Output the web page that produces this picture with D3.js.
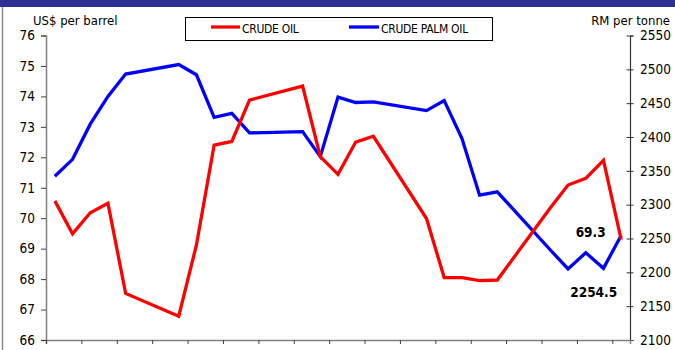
<!DOCTYPE html>
<html>
<head>
<meta charset="utf-8">
<script src="https://cdn.jsdelivr.net/npm/d3@7"></script>
<style>
  html, body { margin: 0; padding: 0; background: #fff; }
  svg { display: block; }
  text { font-family: "DejaVu Sans Condensed", "DejaVu Sans", sans-serif; fill: #000; }
</style>
</head>
<body>
<svg id="chart" width="675" height="350"></svg>
<script>
// Daily slots on the date axis (weekends left empty, lines join across them)
const daySlots = [0, 1, 2, 3, 4, 7, 8, 9, 10, 11, 14, 15, 16, 17, 18,
                  21, 22, 23, 24, 25, 28, 29, 30, 31, 32];
const totalSlots = 33;

// Crude oil, US$ per barrel (left axis)
const crudeOil = [70.57, 69.49, 70.18, 70.49, 67.53, 66.78, 69.12, 72.40, 72.52, 73.88,
                  74.34, 72.02, 71.44, 72.50, 72.69, 69.99, 68.05, 68.05, 67.95, 67.97,
                  70.34, 71.09, 71.31, 71.90, 69.3];

// Crude palm oil, RM per tonne (right axis)
const palmOil = [2342, 2367, 2419, 2460, 2493, 2507, 2492, 2429, 2435, 2406,
                 2408, 2371, 2459, 2451, 2452, 2439, 2454, 2398, 2314, 2319,
                 2233, 2205, 2229, 2206, 2254.5];

const leftTicks = [66, 67, 68, 69, 70, 71, 72, 73, 74, 75, 76];
const rightTicks = [2100, 2150, 2200, 2250, 2300, 2350, 2400, 2450, 2500, 2550];
const seriesNames = ["CRUDE OIL", "CRUDE PALM OIL"];
const seriesColors = ["#ff0000", "#0000ff"];

const svg = d3.select("#chart");

// Header band and frame edge
svg.append("rect").attr("x", 0).attr("y", 0).attr("width", 675).attr("height", 7)
  .attr("fill", "#2e3192");
svg.append("line").attr("x1", 2.5).attr("x2", 2.5).attr("y1", 7).attr("y2", 350)
  .attr("stroke", "#8c8c8c").attr("stroke-width", 1.5);

const plot = { left: 46, right: 630, top: 35.5, bottom: 340 };

const x = d3.scaleLinear().domain([0, totalSlots]).range([plot.left, plot.right]);
const yL = d3.scaleLinear().domain([66, 76]).range([plot.bottom, plot.top]);
const yR = d3.scaleLinear().domain([2100, 2550]).range([plot.bottom, plot.top]);

// Left axis
const gL = svg.append("g").attr("transform", `translate(${plot.left},0)`)
  .call(d3.axisLeft(yL).tickValues(leftTicks).tickSize(5).tickPadding(6).tickFormat(d3.format("d")));
gL.select(".domain").attr("stroke", "#808080").attr("stroke-width", 1.5);
gL.selectAll(".tick line").attr("stroke", "#404040");
gL.selectAll(".tick text").attr("font-size", 13.5).attr("fill", "#000");

// Right axis with crossing tick marks
const gR = svg.append("g").attr("transform", `translate(${plot.right},0)`)
  .call(d3.axisRight(yR).tickValues(rightTicks).tickSize(3.5).tickPadding(6.5).tickFormat(d3.format("d")));
gR.select(".domain").attr("stroke", "#333").attr("stroke-width", 1.2);
gR.selectAll(".tick line").attr("x1", -3.5).attr("stroke", "#333");
gR.selectAll(".tick text").attr("font-size", 13.5).attr("fill", "#000");

// Bottom axis: a mark every two day slots, no labels
const gB = svg.append("g").attr("transform", `translate(0,${plot.bottom})`)
  .call(d3.axisBottom(x).tickValues(d3.range(0, totalSlots, 2)).tickSize(4).tickFormat(""));
gB.select(".domain").attr("stroke", "#808080").attr("stroke-width", 1.5);
gB.selectAll(".tick line").attr("stroke", "#404040");

// Axis titles
svg.append("text").attr("x", 33).attr("y", 25).attr("font-size", 13).text("US$ per barrel");
svg.append("text").attr("x", 670).attr("y", 24.5).attr("font-size", 13)
  .attr("text-anchor", "end").text("RM per tonne");

// Series lines
const xi = i => x(daySlots[i] + 0.5);
const oilLine = d3.line().x((d, i) => xi(i)).y(d => yL(d));
const palmLine = d3.line().x((d, i) => xi(i)).y(d => yR(d));

svg.append("path").datum(palmOil).attr("d", palmLine)
  .attr("fill", "none").attr("stroke", seriesColors[1]).attr("stroke-width", 3.3)
  .attr("stroke-linejoin", "miter");
svg.append("path").datum(crudeOil).attr("d", oilLine)
  .attr("fill", "none").attr("stroke", seriesColors[0]).attr("stroke-width", 3.3)
  .attr("stroke-linejoin", "miter");

// Latest-value labels
const last = crudeOil.length - 1;
svg.append("text").attr("x", xi(last) - 15.5).attr("y", yL(crudeOil[last]) - 3)
  .attr("text-anchor", "end").attr("font-size", 13.5).attr("font-weight", "bold")
  .text(crudeOil[last]);
svg.append("text").attr("x", xi(last) - 4).attr("y", yR(palmOil[last]) + 61.5)
  .attr("text-anchor", "end").attr("font-size", 13.5).attr("font-weight", "bold")
  .text(palmOil[last]);

// Legend
const legend = svg.append("g");
legend.append("rect").attr("x", 185.5).attr("y", 17.5).attr("width", 307).attr("height", 23)
  .attr("fill", "#fff").attr("stroke", "#000").attr("stroke-width", 1);
const legendItems = [
  { name: seriesNames[0], color: seriesColors[0], x0: 211, x1: 240 },
  { name: seriesNames[1], color: seriesColors[1], x0: 349, x1: 379 }
];
legendItems.forEach(it => {
  legend.append("line").attr("x1", it.x0).attr("x2", it.x1).attr("y1", 27).attr("y2", 27)
    .attr("stroke", it.color).attr("stroke-width", 3.3);
  legend.append("text").attr("x", it.x1 + 2).attr("y", 33).attr("font-size", 12)
    .attr("letter-spacing", -0.3).text(it.name);
});
</script>
</body>
</html>
